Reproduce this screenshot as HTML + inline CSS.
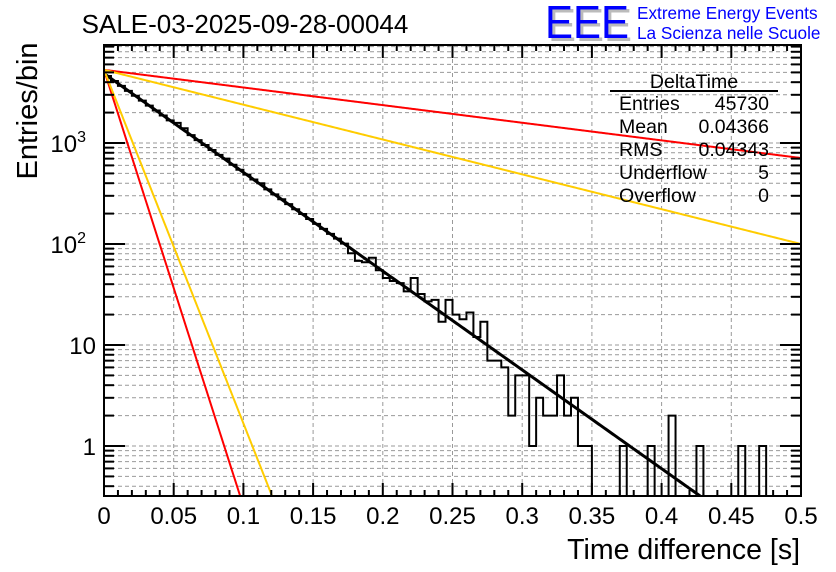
<!DOCTYPE html>
<html><head><meta charset="utf-8"><style>
html,body{margin:0;background:#fff;overflow:hidden;width:836px;height:572px}
svg{display:block;font-family:"Liberation Sans",sans-serif}
</style></head><body>
<svg id="c" width="836" height="572" viewBox="0 0 836 572">
<rect width="836" height="572" fill="#fff"/>
<g id="grid"></g>
<g id="marks"></g>
<g id="axes"></g>
<text x="245" y="33" font-size="26" text-anchor="middle">SALE-03-2025-09-28-00044</text>
<g>
<text x="548" y="41" font-size="46" fill="#bbb" textLength="84" lengthAdjust="spacingAndGlyphs">EEE</text>
<text x="545" y="38" font-size="46" fill="#0000ff" textLength="84" lengthAdjust="spacingAndGlyphs">EEE</text>
<text x="637" y="19" font-size="17.2" fill="#0000ff">Extreme Energy Events</text>
<text x="637" y="39" font-size="17.2" fill="#0000ff">La Scienza nelle Scuole</text>
</g>
<g font-size="19.5">
<text x="694" y="88" text-anchor="middle">DeltaTime</text>
<line x1="610" y1="91" x2="778" y2="91" stroke="#000" stroke-width="2"/>
<text x="619" y="110">Entries</text><text x="769" y="110" text-anchor="end">45730</text>
<text x="619" y="133">Mean</text><text x="769" y="133" text-anchor="end">0.04366</text>
<text x="619" y="156">RMS</text><text x="769" y="156" text-anchor="end">0.04343</text>
<text x="619" y="179">Underflow</text><text x="769" y="179" text-anchor="end">5</text>
<text x="619" y="202">Overflow</text><text x="769" y="202" text-anchor="end">0</text>
</g>
<text transform="translate(37,111) rotate(-90)" font-size="29" text-anchor="middle">Entries/bin</text>
<text x="800" y="559" font-size="28.5" text-anchor="end">Time difference [s]</text>
</svg>
<script>
const binWidth = 0.005;
const counts = [4603,4114,3677,3286,2937,2625,2346,2096,1873,1674,1580,1400,1195,1068,955,853,762,700,609,544,486,435,400,347,310,277,248,221,198,177,158,141,126,113,101,
81,68,66,73,55,46,43,41,34,46,32,27,28,17,28,20,18,21,12,17,7,7,6,2,5,5,1,3,2,2,5,2,3,1,1,0,0,0,0,1,0,0,0,1,0,0,2,0,0,0,1,0,0,0,0,0,1,0,0,1,0,0,0,0,0];
const fitAmps = [4870, 5300, 5300, 5300, 5300];
const fitSlopes = [9.78, 1.746, 3.449, 43.2, 35.0];
const fitColors = ['#000','#ff0000','#ffcc00','#ff0000','#ffcc00'];
const xTicks = [0,0.05,0.1,0.15,0.2,0.25,0.3,0.35,0.4,0.45,0.5];
const xTickLabels = ['0','0.05','0.1','0.15','0.2','0.25','0.3','0.35','0.4','0.45','0.5'];
const yDecades = [1,10,100,1000];
const yDecadeLabels = ['1','10','10^2','10^3'];

const L=104,R=801,T=45,B=496;
const X0=0,X1=0.5,YLMIN=Math.log10(1)-(B-446)/101,YLMAX=YLMIN+(B-T)/101;
const sx=v=>L+(v-X0)/(X1-X0)*(R-L);
const sy=v=>B-(Math.log10(v)-YLMIN)/(YLMAX-YLMIN)*(B-T);
const NS='http://www.w3.org/2000/svg';
function mk(tag,parent,attrs){const e=document.createElementNS(NS,tag);for(const k in attrs)e.setAttribute(k,attrs[k]);parent.appendChild(e);return e;}
const grid=document.getElementById('grid'),marks=document.getElementById('marks'),axes=document.getElementById('axes');
for(const t of xTicks){if(t===0||t===0.5)continue;const g=mk('line',grid,{x1:sx(t),x2:sx(t),y1:T,y2:B,stroke:'#999','stroke-dasharray':'4,3'});

}
for(let d=-1;d<=4;d++)for(let m=1;m<=9;m++){const v=m*Math.pow(10,d);const y=sy(v);if(y<=T+1||y>=B-1)continue;
const g=mk('line',grid,{x1:L,x2:R,y1:y,y2:y,stroke:'#999','stroke-dasharray':'4,3'});


const tl=m===1?21:10;
const a=mk('line',axes,{x1:L,x2:L+tl,y1:y,y2:y,stroke:'#000','stroke-width':2});


const b=mk('line',axes,{x1:R-tl,x2:R,y1:y,y2:y,stroke:'#000','stroke-width':2});

}
for(let i=0;i<=50;i++){const v=i*0.01;const x=sx(v);const tl=(i%5===0)?13:6;
const a=mk('line',axes,{x1:x,x2:x,y1:B,y2:B-tl,stroke:'#000','stroke-width':2});


const b=mk('line',axes,{x1:x,x2:x,y1:T,y2:T+tl,stroke:'#000','stroke-width':2});

}
xTicks.forEach((t,i)=>{const e=mk('text',axes,{x:sx(t),y:B+28,'font-size':24,'text-anchor':'middle'});e.textContent=xTickLabels[i];

});
yDecades.forEach((v,i)=>{const lab=yDecadeLabels[i];const e=mk('text',axes,{x:L-8,y:sy(v)+9,'font-size':24,'text-anchor':'end'});
if(lab.includes('^')){const p=lab.split('^');e.textContent=p[0];const s=mk('tspan',e,{dy:-10,'font-size':16});s.textContent=p[1];e.setAttribute('x',L-18);}
else e.textContent=lab;

});
const clip=mk('clipPath',marks,{id:'pc'});mk('rect',clip,{x:L,y:T,width:R-L,height:B-T});
const yv=c=>c>0?Math.min(B,sy(c)):B;
let d='M'+sx(0)+','+B;
counts.forEach((c,i)=>{const x0=sx(i*binWidth),x1=sx((i+1)*binWidth);const y=yv(c);d+=' L'+x0+','+y+' L'+x1+','+y;});
d+=' L'+sx(counts.length*binWidth)+','+B;
const h=mk('path',marks,{d:d,fill:'none',stroke:'#000','stroke-width':2,'clip-path':'url(#pc)'});


fitAmps.forEach((A,k)=>{let p='';for(let i=0;i<=500;i++){const x=i*0.001;const v=A*Math.pow(10,-fitSlopes[k]*x);p+=(i?' L':'M')+sx(x)+','+sy(v);}
const f=mk('path',marks,{d:p,fill:'none',stroke:fitColors[k],'stroke-width':k===0?3:2,'clip-path':'url(#pc)'});

});
const fr=mk('rect',axes,{x:L,y:T,width:R-L,height:B-T,fill:'none',stroke:'#000','stroke-width':2});


</script>
</body></html>
